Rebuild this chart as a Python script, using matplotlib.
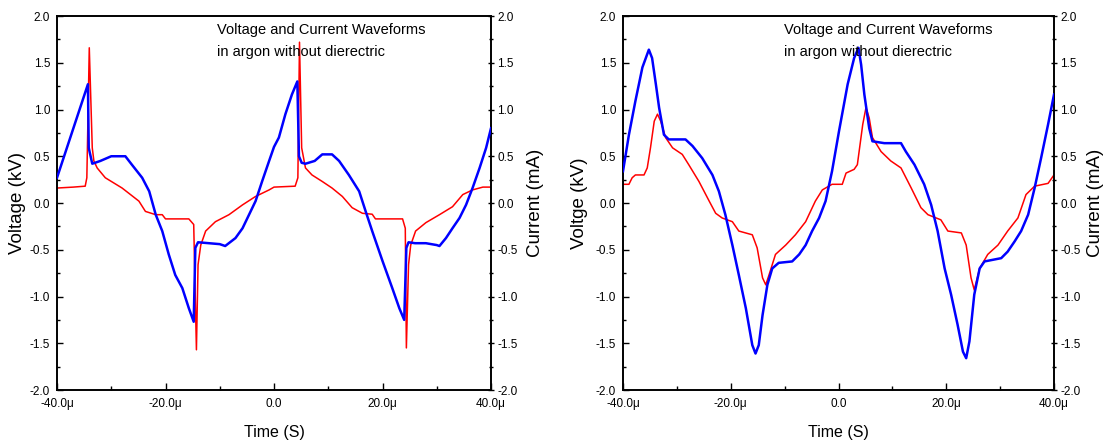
import matplotlib
matplotlib.use("Agg")
import matplotlib.pyplot as plt
from matplotlib.ticker import MultipleLocator, FixedLocator

plt.rcParams['font.family'] = ['Liberation Sans', 'DejaVu Sans']

# ---------------- data (time in microseconds) ----------------
# Left panel: voltage (kV)
t_v1 = [-40, -34.3, -34.15, -33.5, -32, -30, -27.4, -26.2, -24.3, -23, -21.8, -20.6,
        -19.4, -18.2, -16.9, -15.7, -14.8, -14.5, -14, -12, -10, -9, -7.1, -5.8,
        -4.6, -3.4, -2.2, -0.9, 0, 0.9, 2.1, 3.3, 4.3, 4.6, 5.1, 5.8, 7.5, 8.9,
        10.7, 12, 13.8, 15.7, 16.9, 18.1, 20, 21.8, 23.1, 24, 24.4, 24.8, 26, 28,
        30, 30.5, 31.7, 32.9, 34.2, 35.4, 36.6, 37.9, 39.1, 40]
v1 = [0.27, 1.27, 0.59, 0.42, 0.45, 0.50, 0.50, 0.41, 0.27, 0.125, -0.125, -0.30,
      -0.55, -0.77, -0.91, -1.125, -1.27, -0.48, -0.42, -0.43, -0.44, -0.46, -0.375, -0.27,
      -0.125, 0.02, 0.23, 0.45, 0.60, 0.70, 0.95, 1.16, 1.30, 0.50, 0.43, 0.42, 0.45, 0.52,
      0.52, 0.45, 0.30, 0.125, -0.09, -0.30, -0.62, -0.91, -1.125, -1.25, -0.48, -0.42, -0.43, -0.43,
      -0.45, -0.46, -0.375, -0.27, -0.16, -0.02, 0.16, 0.375, 0.59, 0.80]

# Left panel: current (mA)
t_i1 = [-40, -37, -34.8, -34.5, -34.05, -33.5, -33.2, -32.6, -31.1, -28, -24.9, -23.7,
        -21.8, -20.6, -20, -15.7, -14.8, -14.3, -14, -13.5, -12.6, -10.8, -8.3, -5.8,
        -3.4, -0.9, 0, 3.9, 4.4, 4.7, 5.1, 5.8, 7, 8.9, 10.7, 12.6, 14.4, 16.3, 18.1,
        18.7, 23.7, 24.2, 24.4, 24.8, 25.2, 26.1, 28, 30.5, 32.9, 34.8, 36.6, 38.5, 40]
i1 = [0.16, 0.17, 0.18, 0.27, 1.66, 0.59, 0.45, 0.375, 0.27, 0.16, 0.02, -0.09,
      -0.125, -0.125, -0.17, -0.17, -0.23, -1.57, -0.66, -0.45, -0.30, -0.20, -0.125, -0.02,
      0.07, 0.14, 0.17, 0.18, 0.27, 1.72, 0.59, 0.375, 0.30, 0.23, 0.16, 0.07, -0.05, -0.11, -0.12,
      -0.17, -0.17, -0.27, -1.55, -0.66, -0.45, -0.30, -0.21, -0.125, -0.04, 0.09, 0.14, 0.17, 0.17]

# Right panel: voltage (kV)
t_v2 = [-40, -38.9, -37.7, -36.4, -35.2, -34.6, -33.9, -33.3, -32.4, -31.5, -28.4, -27.1,
        -25.3, -23.4, -22.2, -21, -19.7, -18.5, -17.2, -16, -15.4, -14.8, -14.1, -13.2,
        -12.3, -11.1, -8.6, -7.3, -6.1, -4.9, -3.6, -2.4, -1.2, 0.1, 1.7, 2.9, 3.7, 4.2,
        4.8, 5.7, 6.3, 8.5, 11.6, 12.5, 14.1, 15.9, 17.2, 18.4, 19.7, 20.9, 22.1, 23.1,
        23.7, 24.3, 25.2, 26.2, 27.1, 30.2, 31.4, 32.7, 33.9, 35.2, 36.4, 37.6, 38.9, 40]
v2 = [0.34, 0.73, 1.09, 1.45, 1.64, 1.55, 1.27, 1.02, 0.73, 0.68, 0.68, 0.61,
      0.48, 0.30, 0.125, -0.125, -0.45, -0.77, -1.125, -1.52, -1.61, -1.52, -1.20, -0.875,
      -0.70, -0.64, -0.625, -0.55, -0.45, -0.30, -0.16, 0.02, 0.34, 0.77, 1.27, 1.55, 1.66, 1.48,
      1.16, 0.80, 0.66, 0.64, 0.64, 0.55, 0.41, 0.20, -0.02, -0.30, -0.70, -0.98, -1.30, -1.59,
      -1.66, -1.48, -0.98, -0.70, -0.625, -0.59, -0.52, -0.41, -0.30, -0.125, 0.16, 0.48, 0.84, 1.16]

# Right panel: current (mA)
t_i2 = [-40, -38.9, -38.3, -37.7, -36.1, -35.5, -34.9, -34.2, -33.6, -33, -32.1, -30.8,
        -29, -27.8, -25.9, -24, -22.8, -21.6, -19.7, -18.5, -16, -15.1, -14.1, -13.5,
        -12.9, -11.7, -9.8, -8, -6.1, -4.3, -3, -1.2, 0.7, 1.4, 2.9, 3.5, 4.5, 5.1, 5.7,
        6.3, 7.9, 9.7, 11.6, 13.5, 15.3, 16.6, 19, 20.3, 22.8, 23.7, 24.6, 25.2, 26.2,
        27.7, 29.6, 31.4, 33.3, 34.8, 36.4, 38.9, 40]
i2 = [0.20, 0.20, 0.27, 0.30, 0.30, 0.375, 0.59, 0.875, 0.95, 0.875, 0.70, 0.59,
      0.52, 0.41, 0.23, 0.02, -0.11, -0.16, -0.20, -0.30, -0.34, -0.48, -0.80, -0.875,
      -0.77, -0.55, -0.45, -0.34, -0.20, 0.02, 0.14, 0.20, 0.20, 0.32, 0.36, 0.41, 0.84, 1.02, 0.91,
      0.70, 0.55, 0.45, 0.375, 0.16, -0.05, -0.125, -0.18, -0.30, -0.32, -0.45, -0.80, -0.93, -0.70,
      -0.55, -0.45, -0.30, -0.16, 0.09, 0.18, 0.21, 0.30]

title_line1 = "Voltage and Current Waveforms"
title_line2 = "in argon without dierectric"
x_ticks = [-40, -20, 0, 20, 40]
x_ticklabels = ["-40.0\u03bc", "-20.0\u03bc", "0.0", "20.0\u03bc", "40.0\u03bc"]
y_ticks = [-2.0, -1.5, -1.0, -0.5, 0.0, 0.5, 1.0, 1.5, 2.0]

W, H = 1105, 444
fig = plt.figure(figsize=(W / 100, H / 100), dpi=100)

panels = [
    dict(box=(57, 16, 491, 390), tv=t_v1, v=v1, ti=t_i1, i=i1, ylab="Voltage (kV)",
         ylab_x=18, rlab_x=535, title_x=217),
    dict(box=(623, 16, 1054, 390), tv=t_v2, v=v2, ti=t_i2, i=i2, ylab="Voltge (kV)",
         ylab_x=580, rlab_x=1096, title_x=784),
]

for p in panels:
    x0, y0, x1, y1 = p["box"]
    ax = fig.add_axes([x0 / W, 1 - y1 / H, (x1 - x0) / W, (y1 - y0) / H])
    ax2 = ax.twinx()
    ax.plot(p["tv"], p["v"], color="#0000ff", lw=1.8, zorder=3)
    ax2.plot(p["ti"], p["i"], color="#ff0000", lw=1.1, zorder=2)
    for a in (ax, ax2):
        a.set_xlim(-40, 40)
        a.set_ylim(-2, 2)
        a.yaxis.set_major_locator(FixedLocator(y_ticks))
        a.yaxis.set_minor_locator(MultipleLocator(0.25))
        a.set_yticklabels([f"{y:.1f}" for y in y_ticks])
        for s in a.spines.values():
            s.set_linewidth(1.2)
    ax.set_xticks(x_ticks)
    ax.set_xticklabels(x_ticklabels)
    ax.xaxis.set_minor_locator(MultipleLocator(10))
    ax.tick_params(axis="x", which="both", direction="in", top=False, labelsize=8.5, pad=6)
    ax.tick_params(axis="x", which="major", length=5, width=1)
    ax.tick_params(axis="x", which="minor", length=3, width=1)
    ax.tick_params(axis="y", which="major", direction="in", length=4, width=1,
                   labelsize=8.5, pad=5)
    ax.tick_params(axis="y", which="minor", direction="in", length=2.5, width=1)
    ax2.tick_params(axis="y", which="major", direction="inout", length=5, width=1,
                    labelsize=8.5, pad=2)
    ax2.tick_params(axis="y", which="minor", direction="inout", length=3, width=1)
    ax.set_zorder(ax2.get_zorder() + 1)
    ax.patch.set_visible(False)

    fig.text(p["ylab_x"] / W, 1 - ((y0 + y1) / 2) / H, p["ylab"], rotation=90,
             ha="center", va="center", fontsize=13.5)
    fig.text(p["rlab_x"] / W, 1 - ((y0 + y1) / 2) / H, "Current (mA)", rotation=90,
             ha="center", va="center", fontsize=13.5)
    fig.text(((x0 + x1) / 2) / W, 1 - 432 / H, "Time (S)", ha="center", va="center",
             fontsize=11.5)
    fig.text(p["title_x"] / W, 1 - 30 / H, title_line1, ha="left", va="center",
             fontsize=10.5)
    fig.text(p["title_x"] / W, 1 - 52 / H, title_line2, ha="left", va="center",
             fontsize=10.5)

fig.savefig("out.png", dpi=100)
